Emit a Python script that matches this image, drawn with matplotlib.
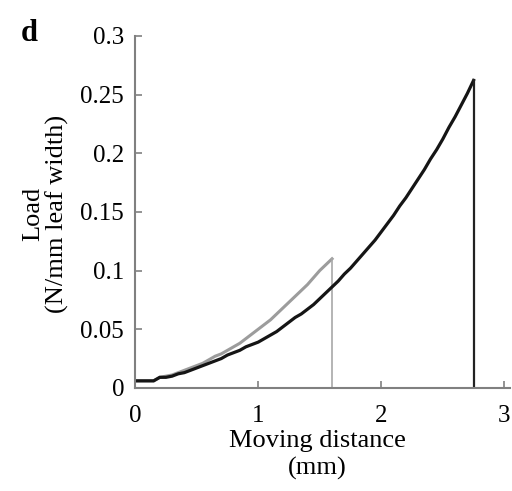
import matplotlib
matplotlib.use('Agg')
import matplotlib.pyplot as plt

plt.rcParams['font.family'] = ['Liberation Serif', 'DejaVu Serif']

# distance (mm) and load (N/mm leaf width)
black_x = [0.00, 0.05, 0.10, 0.15, 0.20, 0.25, 0.30, 0.35, 0.40, 0.45,
           0.50, 0.55, 0.60, 0.65, 0.70, 0.75, 0.80, 0.85, 0.90, 0.95,
           1.00, 1.05, 1.10, 1.15, 1.20, 1.25, 1.30, 1.35, 1.40, 1.45,
           1.50, 1.55, 1.60, 1.65, 1.70, 1.75, 1.80, 1.85, 1.90, 1.95,
           2.00, 2.05, 2.10, 2.15, 2.20, 2.25, 2.30, 2.35, 2.40, 2.45,
           2.50, 2.55, 2.60, 2.65, 2.70, 2.75, 2.75]
black_y = [0.006, 0.006, 0.006, 0.006, 0.009, 0.009, 0.010, 0.012, 0.013, 0.015,
           0.017, 0.019, 0.021, 0.023, 0.025, 0.028, 0.030, 0.032, 0.035, 0.037,
           0.039, 0.042, 0.045, 0.048, 0.052, 0.056, 0.060, 0.063, 0.067, 0.071,
           0.076, 0.081, 0.086, 0.091, 0.097, 0.102, 0.108, 0.114, 0.120, 0.126,
           0.133, 0.140, 0.147, 0.155, 0.162, 0.170, 0.178, 0.186, 0.195, 0.203,
           0.212, 0.222, 0.231, 0.241, 0.251, 0.262, 0.0]

gray_x = [0.00, 0.05, 0.10, 0.15, 0.20, 0.25, 0.30, 0.35, 0.40, 0.45,
          0.50, 0.55, 0.60, 0.65, 0.70, 0.75, 0.80, 0.85, 0.90, 0.95,
          1.00, 1.05, 1.10, 1.15, 1.20, 1.25, 1.30, 1.35, 1.40, 1.45,
          1.50, 1.55, 1.60, 1.60]
gray_y = [0.006, 0.006, 0.006, 0.006, 0.009, 0.010, 0.011, 0.013, 0.015, 0.017,
          0.019, 0.021, 0.024, 0.027, 0.029, 0.032, 0.035, 0.038, 0.042, 0.046,
          0.050, 0.054, 0.058, 0.063, 0.068, 0.073, 0.078, 0.083, 0.088, 0.094,
          0.100, 0.105, 0.110, 0.0]

x_ticks = [0, 1, 2, 3]
y_ticks = [0, 0.05, 0.1, 0.15, 0.2, 0.25, 0.3]
y_ticklabels = ['0', '0.05', '0.1', '0.15', '0.2', '0.25', '0.3']

fig = plt.figure(figsize=(5.12, 4.91), dpi=100)
ax = fig.add_axes([0.264, 0.21, 0.733, 0.717])

# loading curves, then the break (vertical drop) drawn a bit thinner
ax.plot(gray_x[:-1], gray_y[:-1], color='#9c9c9c', lw=2.2, solid_joinstyle='miter')
ax.plot(gray_x[-2:], gray_y[-2:], color='#a8a8a8', lw=1.2)
ax.plot(black_x[:-1], black_y[:-1], color='#151515', lw=2.3, solid_joinstyle='miter')
ax.plot(black_x[-2:], black_y[-2:], color='#222222', lw=1.6)

ax.set_xlim(0, 3.05)
ax.set_ylim(0, 0.3)
ax.set_xticks(x_ticks)
ax.set_xticklabels([str(t) for t in x_ticks])
ax.set_yticks(y_ticks)
ax.set_yticklabels(y_ticklabels)

for s in ['top', 'right']:
    ax.spines[s].set_visible(False)
for s in ['left', 'bottom']:
    ax.spines[s].set_color('#808080')
    ax.spines[s].set_linewidth(1.5)

ax.tick_params(axis='both', direction='in', length=5, width=1.2, color='#808080',
               labelsize=18)
ax.tick_params(axis='x', pad=12)
ax.tick_params(axis='y', pad=8)

fig.text(317 / 512, 1 - 430 / 491, 'Moving distance\n(mm)', fontsize=19,
         ha='center', va='top', linespacing=1.3)
fig.text(46 / 512, 1 - 214 / 491, 'Load\n(N/mm leaf width)', fontsize=19,
         rotation=90, ha='center', va='center', multialignment='center',
         linespacing=1.08)

fig.text(0.04, 0.962, 'd', fontsize=22, fontweight='bold', va='top')

fig.savefig('out.png', dpi=100)
